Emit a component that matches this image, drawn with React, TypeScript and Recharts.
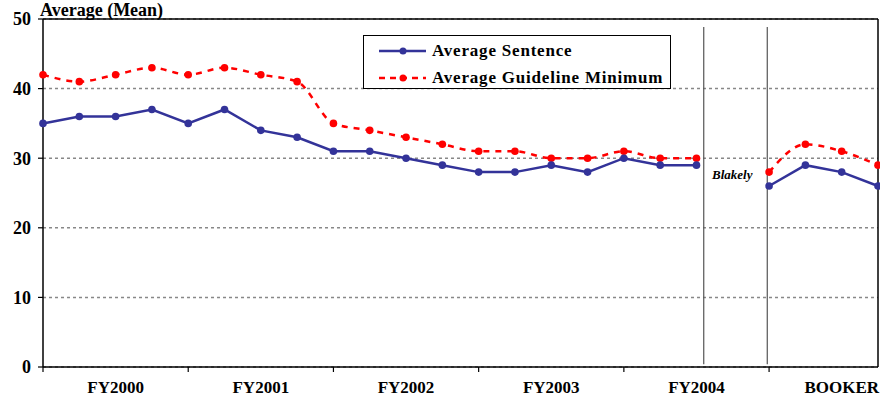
import { CartesianGrid, Line, LineChart, ReferenceLine, XAxis, YAxis } from "recharts";

const quarters = [0, 1, 2, 3, 4, 5, 6, 7, 8, 9, 10, 11, 12, 13, 14, 15, 16, 17, 18, 19, 20, 21, 22, 23];
const avgSentence = [35, 36, 36, 37, 35, 37, 34, 33, 31, 31, 30, 29, 28, 28, 29, 28, 30, 29, 29, null, 26, 29, 28, 26];
const avgGuidelineMin = [42, 41, 42, 43, 42, 43, 42, 41, 35, 34, 33, 32, 31, 31, 30, 30, 31, 30, 30, null, 28, 32, 31, 29];
const groupLabels = ["FY2000", "FY2001", "FY2002", "FY2003", "FY2004", "BOOKER"];
const yTicks = [0, 10, 20, 30, 40, 50];
const blakelyBounds = [18.2, 19.95];

const data = quarters.map((q, i) => ({ q, sentence: avgSentence[i], guideline: avgGuidelineMin[i] }));

const FONT = "'Liberation Serif', 'Times New Roman', serif";
const BLUE = "#333399";
const RED = "#ff0000";

function QuarterTick(props: any) {
  const { x, y, payload } = props;
  const v = payload.value as number;
  return (
    <g>
      {v % 4 === 0 && <line x1={x} x2={x} y1={y} y2={y + 5} stroke="#000" strokeWidth={1.2} />}
      {v % 4 === 2 && (
        <text x={x} y={y + 26} textAnchor="middle" fontFamily={FONT} fontWeight="bold" fontSize={17} fill="#000">
          {groupLabels[(v - 2) / 4]}
        </text>
      )}
    </g>
  );
}

export default function App() {
  return (
    <div style={{ position: "relative", width: 880, height: 402, background: "#fff" }}>
      <style>{`body{margin:0}`}</style>
      <LineChart width={880} height={402} data={data} margin={{ top: 19, right: 2, bottom: 0, left: 0 }}>
        <CartesianGrid vertical={false} stroke="#888" strokeDasharray="3 3" strokeWidth={1.5} />
        <XAxis
          dataKey="q"
          type="number"
          domain={[0, 23]}
          ticks={[0, 2, 4, 6, 8, 10, 12, 14, 16, 18, 20, 22]}
          tick={<QuarterTick />}
          tickLine={false}
          tickSize={0}
          tickMargin={0}
          height={35}
          axisLine={{ stroke: "#000", strokeWidth: 1.5 }}
          interval={0}
        />
        <YAxis
          domain={[0, 50]}
          ticks={yTicks}
          width={43}
          tickSize={5}
          tickMargin={7}
          tickLine={{ stroke: "#000", strokeWidth: 1.2 }}
          axisLine={{ stroke: "#000", strokeWidth: 1.5 }}
          tick={{ fontFamily: FONT, fontWeight: "bold", fontSize: 18, fill: "#000" }}
        />
        <ReferenceLine y={50} stroke="#000" strokeWidth={1.5} />
        <ReferenceLine x={23} stroke="#000" strokeWidth={1.5} />
        {blakelyBounds.map((b) => (
          <ReferenceLine
            key={b}
            segment={[
              { x: b, y: 48.85 },
              { x: b, y: 0.4 },
            ]}
            stroke="#555"
            strokeWidth={1.2}
          />
        ))}
        <Line
          dataKey="guideline"
          type="monotone"
          stroke={RED}
          strokeWidth={2.5}
          strokeDasharray="6 6"
          dot={{ r: 3.8, fill: RED, stroke: "none" }}
          isAnimationActive={false}
        />
        <Line
          dataKey="sentence"
          type="linear"
          stroke={BLUE}
          strokeWidth={2.5}
          dot={{ r: 3.8, fill: BLUE, stroke: "none" }}
          isAnimationActive={false}
        />
      </LineChart>
      <div
        style={{
          position: "absolute",
          left: 40,
          top: 0,
          fontFamily: FONT,
          fontWeight: "bold",
          fontSize: 18,
          lineHeight: "20px",
          color: "#000",
        }}
      >
        Average (Mean)
      </div>
      <div
        style={{
          position: "absolute",
          left: 712,
          top: 168,
          fontFamily: FONT,
          fontWeight: "bold",
          fontStyle: "italic",
          fontSize: 13,
          lineHeight: "14px",
          color: "#000",
        }}
      >
        Blakely
      </div>
      <div
        style={{
          position: "absolute",
          left: 363,
          top: 35,
          width: 306,
          height: 52,
          border: "1.5px solid #000",
          background: "#fff",
          fontFamily: FONT,
          fontWeight: "bold",
          fontSize: 17,
          letterSpacing: 0.8,
          color: "#000",
        }}
      >
        {[
          { label: "Average Sentence", color: BLUE, dash: undefined },
          { label: "Average Guideline Minimum", color: RED, dash: "6 5" },
        ].map((e, i) => (
          <div key={e.label} style={{ position: "absolute", left: 14, top: 4 + i * 27, height: 22, display: "flex", alignItems: "center" }}>
            <svg width={50} height={10} style={{ marginRight: 4 }}>
              <line x1={1} x2={48} y1={5} y2={5} stroke={e.color} strokeWidth={2.5} strokeDasharray={e.dash} />
              <circle cx={25} cy={5} r={3.5} fill={e.color} />
            </svg>
            <span>{e.label}</span>
          </div>
        ))}
      </div>
    </div>
  );
}
